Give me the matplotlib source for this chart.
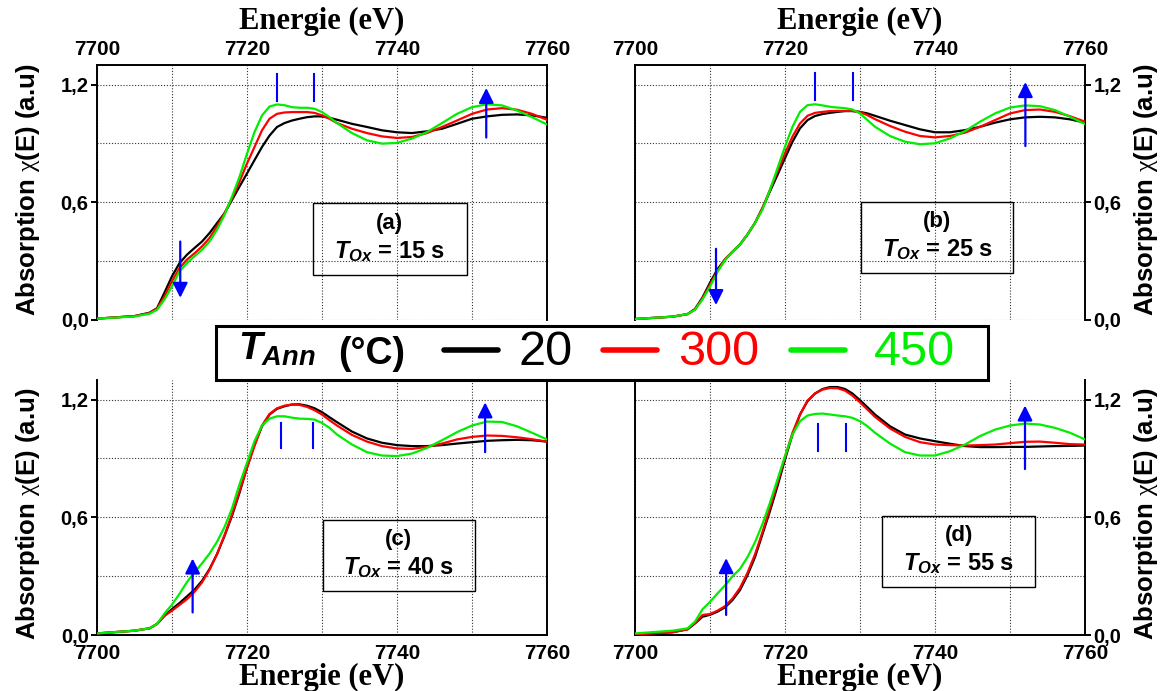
import matplotlib
matplotlib.use("Agg")
import matplotlib.pyplot as plt
from matplotlib.patches import Rectangle
from matplotlib.lines import Line2D
from matplotlib.ticker import FixedLocator, MultipleLocator

plt.rcParams['mathtext.fontset'] = 'custom'
plt.rcParams['mathtext.it'] = 'Liberation Sans:bold:italic'
plt.rcParams['mathtext.rm'] = 'Liberation Serif'
plt.rcParams['mathtext.bf'] = 'Liberation Sans:bold'

# ---------------- data ----------------
energy = [7700, 7705, 7707,
          7708, 7709, 7710, 7711, 7712, 7713, 7714, 7715, 7716, 7717, 7718, 7719, 7720,
          7721, 7722, 7723, 7724, 7725, 7726, 7727, 7728, 7729, 7730, 7731, 7732,
          7734, 7736, 7738, 7740, 7742, 7744, 7746, 7748, 7750, 7752, 7754, 7756, 7758, 7760]

# (a) T_Ox = 15 s
a_20 = [0.007, 0.02, 0.037, 0.06, 0.14, 0.223, 0.29, 0.333, 0.367, 0.40, 0.443, 0.494, 0.544, 0.612,
        0.68, 0.747, 0.815, 0.882, 0.94, 0.984, 1.004, 1.017, 1.026, 1.034, 1.038, 1.038, 1.031, 1.021,
        1.00, 0.984, 0.967, 0.957, 0.953, 0.962, 0.975, 1.0, 1.026, 1.038, 1.046, 1.048, 1.043, 1.031]
a_300 = [0.007, 0.02, 0.035, 0.058, 0.12, 0.198, 0.265, 0.308, 0.34, 0.375, 0.418, 0.477, 0.544, 0.62,
         0.705, 0.798, 0.882, 0.967, 1.026, 1.051, 1.058, 1.06, 1.06, 1.06, 1.056, 1.043, 1.026, 1.004,
         0.975, 0.953, 0.936, 0.928, 0.933, 0.953, 0.984, 1.017, 1.051, 1.073, 1.08, 1.072, 1.051, 1.021]
a_450 = [0.007, 0.018, 0.032, 0.052, 0.105, 0.172, 0.248, 0.29, 0.325, 0.358, 0.40, 0.46, 0.536, 0.629,
         0.73, 0.848, 0.958, 1.043, 1.088, 1.099, 1.095, 1.085, 1.082, 1.082, 1.077, 1.06, 1.034, 1.004,
         0.953, 0.916, 0.899, 0.903, 0.925, 0.958, 1.004, 1.051, 1.085, 1.10, 1.094, 1.068, 1.034, 0.997]

# (b) T_Ox = 25 s
b_20 = [0.005, 0.017, 0.03, 0.056, 0.115, 0.19, 0.259, 0.309, 0.348, 0.385, 0.436, 0.495, 0.571, 0.656,
        0.74, 0.825, 0.909, 0.977, 1.019, 1.04, 1.05, 1.056, 1.061, 1.065, 1.065, 1.061, 1.053, 1.041,
        1.016, 0.994, 0.972, 0.957, 0.957, 0.968, 0.985, 1.006, 1.023, 1.033, 1.036, 1.033, 1.023, 1.006]
b_300 = [0.005, 0.017, 0.03, 0.054, 0.11, 0.18, 0.25, 0.309, 0.348, 0.385, 0.436, 0.495, 0.571, 0.664,
         0.757, 0.85, 0.935, 1.002, 1.041, 1.056, 1.061, 1.065, 1.066, 1.066, 1.066, 1.06, 1.044, 1.024,
         0.989, 0.96, 0.938, 0.931, 0.938, 0.955, 0.985, 1.019, 1.053, 1.07, 1.073, 1.061, 1.039, 1.011]
b_450 = [0.005, 0.017, 0.03, 0.052, 0.105, 0.17, 0.245, 0.305, 0.348, 0.385, 0.436, 0.495, 0.563, 0.664,
         0.774, 0.884, 0.985, 1.061, 1.095, 1.10, 1.094, 1.087, 1.083, 1.08, 1.073, 1.053, 1.019, 0.985,
         0.938, 0.909, 0.896, 0.901, 0.926, 0.963, 1.011, 1.053, 1.083, 1.094, 1.09, 1.07, 1.036, 0.999]

# (c) T_Ox = 40 s
c_20 = [0.008, 0.022, 0.034, 0.056, 0.098, 0.132, 0.163, 0.197, 0.231, 0.276, 0.336, 0.412, 0.505, 0.607,
        0.725, 0.853, 0.971, 1.064, 1.124, 1.153, 1.166, 1.175, 1.176, 1.169, 1.156, 1.136, 1.11, 1.085,
        1.037, 1.002, 0.98, 0.968, 0.963, 0.963, 0.968, 0.976, 0.983, 0.99, 0.993, 0.995, 0.993, 0.986]
c_300 = [0.008, 0.022, 0.034, 0.056, 0.098, 0.124, 0.153, 0.183, 0.22, 0.268, 0.332, 0.412, 0.508, 0.615,
         0.734, 0.853, 0.963, 1.068, 1.127, 1.156, 1.169, 1.175, 1.173, 1.163, 1.146, 1.124, 1.095, 1.068,
         1.02, 0.986, 0.963, 0.951, 0.949, 0.959, 0.976, 0.997, 1.01, 1.017, 1.015, 1.008, 0.998, 0.986]
c_450 = [0.008, 0.022, 0.034, 0.056, 0.11, 0.155, 0.21, 0.27, 0.32, 0.365, 0.415, 0.475, 0.55, 0.645,
         0.768, 0.878, 0.988, 1.068, 1.103, 1.115, 1.115, 1.108, 1.103, 1.102, 1.098, 1.081, 1.056, 1.022,
         0.971, 0.932, 0.915, 0.912, 0.925, 0.954, 0.993, 1.034, 1.068, 1.088, 1.086, 1.064, 1.031, 0.997]

# (d) T_Ox = 55 s
d_20 = [0.003, 0.014, 0.029, 0.059, 0.093, 0.103, 0.119, 0.141, 0.178, 0.229, 0.305, 0.397, 0.514, 0.632,
        0.759, 0.895, 1.022, 1.124, 1.192, 1.231, 1.254, 1.264, 1.264, 1.254, 1.231, 1.197, 1.161, 1.124,
        1.064, 1.022, 1.002, 0.988, 0.975, 0.963, 0.958, 0.958, 0.959, 0.959, 0.961, 0.963, 0.964, 0.966]
d_300 = [0.003, 0.014, 0.029, 0.062, 0.102, 0.107, 0.124, 0.147, 0.186, 0.24, 0.317, 0.411, 0.525, 0.649,
         0.776, 0.907, 1.031, 1.124, 1.195, 1.231, 1.251, 1.259, 1.258, 1.246, 1.22, 1.186, 1.149, 1.112,
         1.053, 1.01, 0.983, 0.971, 0.968, 0.966, 0.968, 0.971, 0.978, 0.985, 0.986, 0.98, 0.973, 0.971]
d_450 = [0.008, 0.022, 0.034, 0.068, 0.131, 0.169, 0.212, 0.253, 0.299, 0.337, 0.397, 0.473, 0.566, 0.675,
         0.793, 0.912, 1.022, 1.09, 1.119, 1.127, 1.129, 1.124, 1.119, 1.115, 1.107, 1.09, 1.064, 1.031,
         0.976, 0.932, 0.915, 0.915, 0.937, 0.971, 1.014, 1.047, 1.068, 1.078, 1.073, 1.056, 1.031, 0.997]

annealing_temps = ['20', '300', '450']
panel_tags = ['(a)', '(b)', '(c)', '(d)']
oxidation_times = [15, 25, 40, 55]
panel_series = [[a_20, a_300, a_450], [b_20, b_300, b_450],
                [c_20, c_300, c_450], [d_20, d_300, d_450]]

y_ticks = [0.0, 0.6, 1.2]
y_tick_labels = ['0,0', '0,6', '1,2']
x_ticks = [7700, 7720, 7740, 7760]

# white-line feature markers (energy positions)
marker_pairs = [(7724.0, 7728.9), (7723.95, 7729.1), (7724.6, 7728.75), (7724.35, 7728.15)]
# change arrows: (energy, start, end)
edge_arrows = [(7711.1, 0.40, 0.113), (7710.8, 0.363, 0.076), (7712.75, 0.115, 0.39), (7712.15, 0.102, 0.392)]
post_arrows = [(7751.9, 0.93, 1.183), (7752.05, 0.887, 1.213), (7751.75, 0.932, 1.186), (7752.0, 0.846, 1.17)]

# ---------------- layout / style ----------------
W, H = 1170, 691
colors = ['#000000', '#ff0000', '#00ee00']
blue = '#0000ff'
marker_y = [(1.115, 1.254), (1.124, 1.259), (0.954, 1.081), (0.937, 1.078)]
boxes = [(7728.8, 0.23, 7749.3, 0.595), (7730.2, 0.24, 7750.4, 0.603),
         (7730.1, 0.222, 7750.35, 0.588), (7733.0, 0.246, 7753.35, 0.607)]

fig = plt.figure(figsize=(W / 100, H / 100), dpi=100)

ax_w, ax_h = 450 / W, 255 / H
lefts = [97 / W, 635 / W, 97 / W, 635 / W]
bottoms = [1 - 320 / H, 1 - 320 / H, 1 - 635 / H, 1 - 635 / H]

for i in range(4):
    ax = fig.add_axes([lefts[i], bottoms[i], ax_w, ax_h])
    top_row = i < 2
    right_col = i % 2 == 1

    for s, col in zip(panel_series[i], colors):
        ax.plot(energy, s, color=col, lw=1.6, zorder=3, solid_capstyle='round')

    ax.set_xlim(7700, 7760)
    ax.set_ylim(0, 1.3)

    ax.xaxis.set_major_locator(FixedLocator(x_ticks))
    ax.xaxis.set_minor_locator(MultipleLocator(10))
    ax.yaxis.set_major_locator(FixedLocator(y_ticks))
    ax.yaxis.set_minor_locator(MultipleLocator(0.3))
    ax.set_yticklabels(y_tick_labels)
    ax.grid(True, which='both', color='#333333', lw=0.8, linestyle=(0, (1, 1.6)), zorder=1)
    ax.set_axisbelow(True)

    for sp in ax.spines.values():
        sp.set_linewidth(1.4)
    if top_row:
        ax.spines['bottom'].set_visible(False)
        ax.xaxis.tick_top()
        ax.tick_params(axis='x', which='both', length=0, pad=4)
    else:
        ax.spines['top'].set_visible(False)
        ax.xaxis.tick_bottom()
        ax.tick_params(axis='x', which='both', length=0, pad=6.5)
    if right_col:
        ax.yaxis.tick_right()
    else:
        ax.yaxis.tick_left()
    ax.tick_params(axis='y', which='major', length=4, width=1.4, direction='out', pad=2)
    ax.tick_params(axis='y', which='minor', length=0)
    for lab in ax.get_xticklabels():
        lab.set_family('Liberation Sans')
        lab.set_fontsize(15)
        lab.set_fontweight('bold')
    for lab in ax.get_yticklabels():
        lab.set_family('Liberation Sans')
        lab.set_fontsize(14.5)
        lab.set_fontweight('bold')

    # feature markers
    for xm in marker_pairs[i]:
        ax.plot([xm, xm], marker_y[i], color=blue, lw=1.5, zorder=4)
    for (xe, y0, y1) in (edge_arrows[i], post_arrows[i]):
        ax.annotate('', xy=(xe, y1), xytext=(xe, y0),
                    arrowprops=dict(arrowstyle='-|>,head_width=0.45,head_length=0.9',
                                    color=blue, lw=1.6, shrinkA=0, shrinkB=0), zorder=5)

    # sample box
    x0, y0, x1, y1 = boxes[i]
    ax.add_patch(Rectangle((x0, y0), x1 - x0, y1 - y0, fill=False, ec='black', lw=1.0, zorder=4))
    xc = (x0 + x1) / 2
    ax.text(xc, y0 + 0.72 * (y1 - y0), panel_tags[i], ha='center', va='center',
            family='Liberation Sans', weight='bold', size=16, zorder=6)
    ax.text(xc, y0 + 0.235 * (y1 - y0), r'$T_{Ox}$' + ' = %d s' % oxidation_times[i],
            ha='center', va='baseline', family='Liberation Sans', weight='bold', size=17, zorder=6)

# axis titles
ylabel = r'Absorption $\mathrm{\chi}$(E) (a.u)'
for (xp, yp) in [(28, 190), (28, 514), (1146, 190), (1146, 514)]:
    fig.text(xp / W, 1 - yp / H, ylabel, rotation=90, ha='center', va='center',
             family='Liberation Sans', weight='bold', size=18.5)
for (xp, yp) in [(322, 21), (860, 21), (322, 677), (860, 677)]:
    fig.text(xp / W, 1 - yp / H, 'Energie (eV)', ha='center', va='center',
             family='Liberation Serif', weight='bold', size=22)

# annealing-temperature key
fig.patches.append(Rectangle((216 / W, 1 - 380 / H), 772 / W, 54 / H, transform=fig.transFigure,
                             fill=True, fc='white', ec='black', lw=2.2, zorder=10))
fig.text(238 / W, 1 - 360 / H, r'$T_{Ann}$', ha='left', va='baseline',
         family='Liberation Sans', weight='bold', size=28, zorder=11)
fig.text(372 / W, 1 - 364 / H, '(°C)', ha='center', va='baseline',
         family='Liberation Sans', weight='bold', size=27, zorder=11)
key_lines = [(444, 498), (603, 657), (791, 845)]
key_text_x = [546, 719, 914]
for (lx0, lx1), tx, col, lbl in zip(key_lines, key_text_x, colors, annealing_temps):
    fig.lines.append(Line2D([lx0 / W, lx1 / W], [1 - 350 / H, 1 - 350 / H], transform=fig.transFigure,
                            color=col, lw=4, solid_capstyle='round', zorder=11))
    fig.text(tx / W, 1 - 365 / H, lbl, ha='center', va='baseline', color=col,
             family='Liberation Sans', size=35, zorder=11)

fig.savefig('out.png', dpi=100)
